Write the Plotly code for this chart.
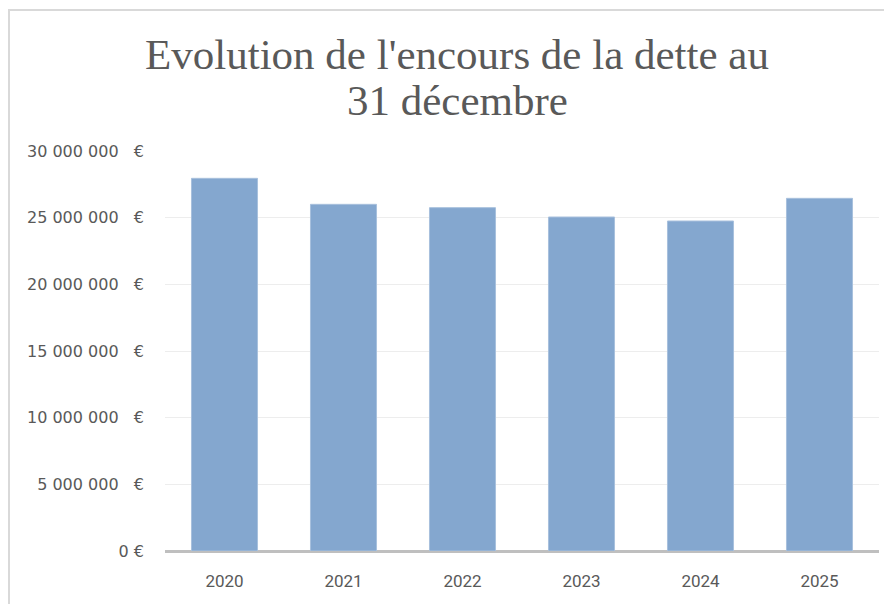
import plotly.graph_objects as go

years = ["2020", "2021", "2022", "2023", "2024", "2025"]
encours = [27950000, 26000000, 25750000, 25050000, 24750000, 26450000]
tick_values = [0, 5000000, 10000000, 15000000, 20000000, 25000000, 30000000]
tick_labels = ["0 €"] + [
    f"{v:,}".replace(",", "\u00a0") + "\u00a0\u00a0\u00a0€" for v in tick_values[1:]
]
title_line1 = "Evolution de l'encours de la dette au"
title_line2 = "31 décembre"

# page body has an 8px margin; the figure is sized to fit the window
W, H = 884, 596
L, R, T, B = 157, 13, 143, 53
pw, ph = W - L - R, H - T - B


def py(fig_px):
    return (H - B - fig_px) / ph


def px(fig_px):
    return (fig_px - L) / pw


fig = go.Figure(
    go.Bar(
        x=years,
        y=encours,
        marker=dict(color="#84a7cf", line=dict(color="#a8c0dd", width=1)),
        hoverinfo="x+y",
    )
)

fig.update_layout(
    width=W,
    height=H,
    margin=dict(l=L, r=R, t=T, b=B, autoexpand=False),
    paper_bgcolor="white",
    plot_bgcolor="white",
    bargap=0.445,
    showlegend=False,
    font=dict(family="DejaVu Sans", size=16, color="#595959"),
)

title_font = dict(family="Liberation Serif", size=43, color="#595959")
fig.add_annotation(
    text=title_line1, xref="paper", yref="paper", x=px(449), y=py(46),
    xanchor="center", yanchor="middle", showarrow=False, font=title_font,
)
fig.add_annotation(
    text=title_line2, xref="paper", yref="paper", x=px(449), y=py(92),
    xanchor="center", yanchor="middle", showarrow=False, font=title_font,
)

fig.update_xaxes(
    showgrid=False,
    showline=False,
    ticks="",
    tickfont=dict(family="Liberation Sans Narrow, Roboto", size=17, color="#595959"),
    ticklabelstandoff=18,
)
fig.update_yaxes(
    range=[0, 30000000],
    tickvals=tick_values,
    ticktext=tick_labels,
    showgrid=True,
    gridcolor="#ededed",
    gridwidth=1,
    zeroline=True,
    zerolinecolor="#bfbfbf",
    zerolinewidth=3,
    ticks="",
    ticklabelstandoff=20,
    tickfont=dict(family="DejaVu Sans", size=16, color="#595959"),
)

# chart frame (Excel chart area border)
fig.add_shape(
    type="rect",
    xref="paper",
    yref="paper",
    x0=px(1),
    x1=px(W + 10),
    y0=py(H + 10),
    y1=py(2),
    line=dict(color="#d9d9d9", width=2),
    fillcolor="rgba(0,0,0,0)",
    layer="below",
)

fig.write_html("out.html")
